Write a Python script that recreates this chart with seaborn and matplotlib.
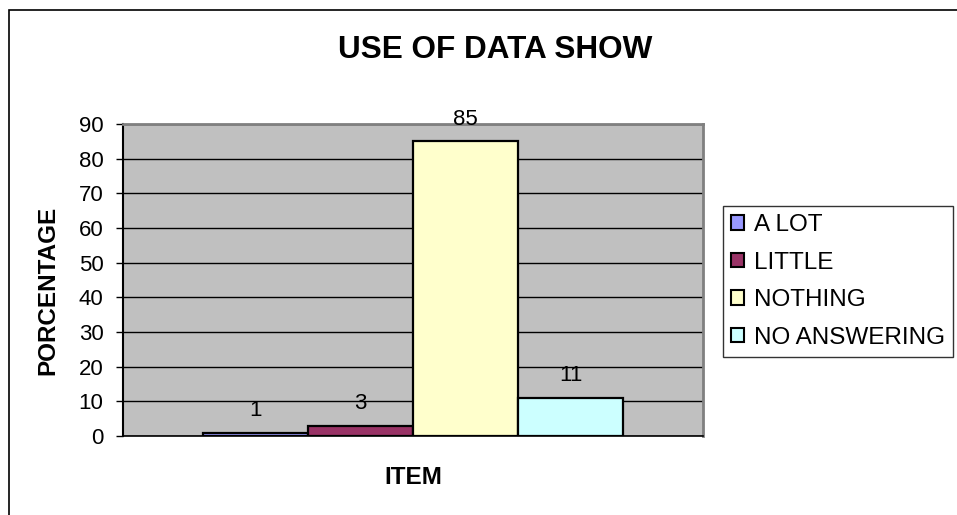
import matplotlib
matplotlib.use("Agg")
import matplotlib.pyplot as plt
import seaborn as sns
import pandas as pd
from matplotlib.patches import Rectangle

# Survey results
categories = ["A LOT", "LITTLE", "NOTHING", "NO ANSWERING"]
percentages = [1, 3, 85, 11]
colors = ["#9999FF", "#993366", "#FFFFCC", "#CCFFFF"]
item_label = "ITEM"
y_ticks = [0, 10, 20, 30, 40, 50, 60, 70, 80, 90]

df = pd.DataFrame({"item": [item_label] * len(categories),
                   "answer": categories,
                   "pct": percentages})

sns.set_theme(style="white", rc={"text.color": "black",
                                 "axes.labelcolor": "black",
                                 "xtick.color": "black",
                                 "ytick.color": "black"})
plt.rcParams["font.family"] = ["Liberation Sans", "DejaVu Sans"]

W, H = 957, 515
fig = plt.figure(figsize=(W / 100, H / 100), dpi=100)
ax = fig.add_axes([123 / W, 1 - 436 / H, (703 - 123) / W, (436 - 124) / H])

# outer chart frame
fig.patches.append(Rectangle((9 / W, -0.1), 1.1, 1 - 10 / H + 0.1,
                             transform=fig.transFigure, fill=False,
                             edgecolor="black", linewidth=1.2, zorder=0))

ax.set_facecolor("#C0C0C0")
sns.barplot(data=df, x="item", y="pct", hue="answer", hue_order=categories,
            palette=colors, width=0.724, dodge=True, gap=0,
            edgecolor="black", linewidth=1.6, saturation=1, ax=ax,
            legend=True, zorder=3)

for container, val in zip(ax.containers, percentages):
    for bar in container:
        ax.annotate(f"{val}", (bar.get_x() + bar.get_width() / 2, bar.get_height()),
                    xytext=(0, 12), textcoords="offset points",
                    ha="center", va="baseline", fontsize=16, color="black", zorder=4)

ax.set_ylim(0, 90)
ax.set_xlim(-0.5, 0.5)
ax.set_yticks(y_ticks)
ax.set_yticklabels([str(t) for t in y_ticks], fontsize=16)
ax.set_xticks([])
ax.yaxis.grid(True, color="black", linewidth=1.0)
ax.set_axisbelow(True)
ax.tick_params(axis="y", which="major", left=True, length=5, width=1,
               color="black", pad=9)
for side in ["top", "right"]:
    ax.spines[side].set_color("#808080")
    ax.spines[side].set_linewidth(2)
ax.spines["left"].set_color("black")
ax.spines["left"].set_linewidth(1.5)
ax.spines["bottom"].set_color("black")
ax.spines["bottom"].set_linewidth(1.2)

ax.set_xlabel(item_label, fontsize=17.5, fontweight="bold")
ax.xaxis.set_label_coords(0.5, -(478 - 436) / (436 - 124), transform=ax.transAxes)
ax.xaxis.label.set_va("center")
ax.set_ylabel("PORCENTAGE", fontsize=17.5, fontweight="bold")
ax.yaxis.set_label_coords((48 - 123) / (703 - 123), (436 - 290) / (436 - 124),
                          transform=ax.transAxes)
ax.yaxis.label.set_va("center")
fig.text(495 / W, 1 - 50 / H, "USE OF DATA SHOW", ha="center", va="center",
         fontsize=22.7, fontweight="bold")

leg = ax.legend(loc="upper left", bbox_to_anchor=(723 / W, 1 - 206 / H),
                bbox_transform=fig.transFigure, frameon=True, fancybox=False,
                fontsize=17.5, handlelength=0.53, handleheight=0.53,
                handletextpad=0.41, borderpad=0.33, labelspacing=0.64,
                borderaxespad=0)
leg.get_frame().set_edgecolor("black")
leg.get_frame().set_linewidth(1.0)
for h in leg.legend_handles:
    h.set_edgecolor("black")
    h.set_linewidth(1.5)

fig.savefig("out.png", dpi=100)
